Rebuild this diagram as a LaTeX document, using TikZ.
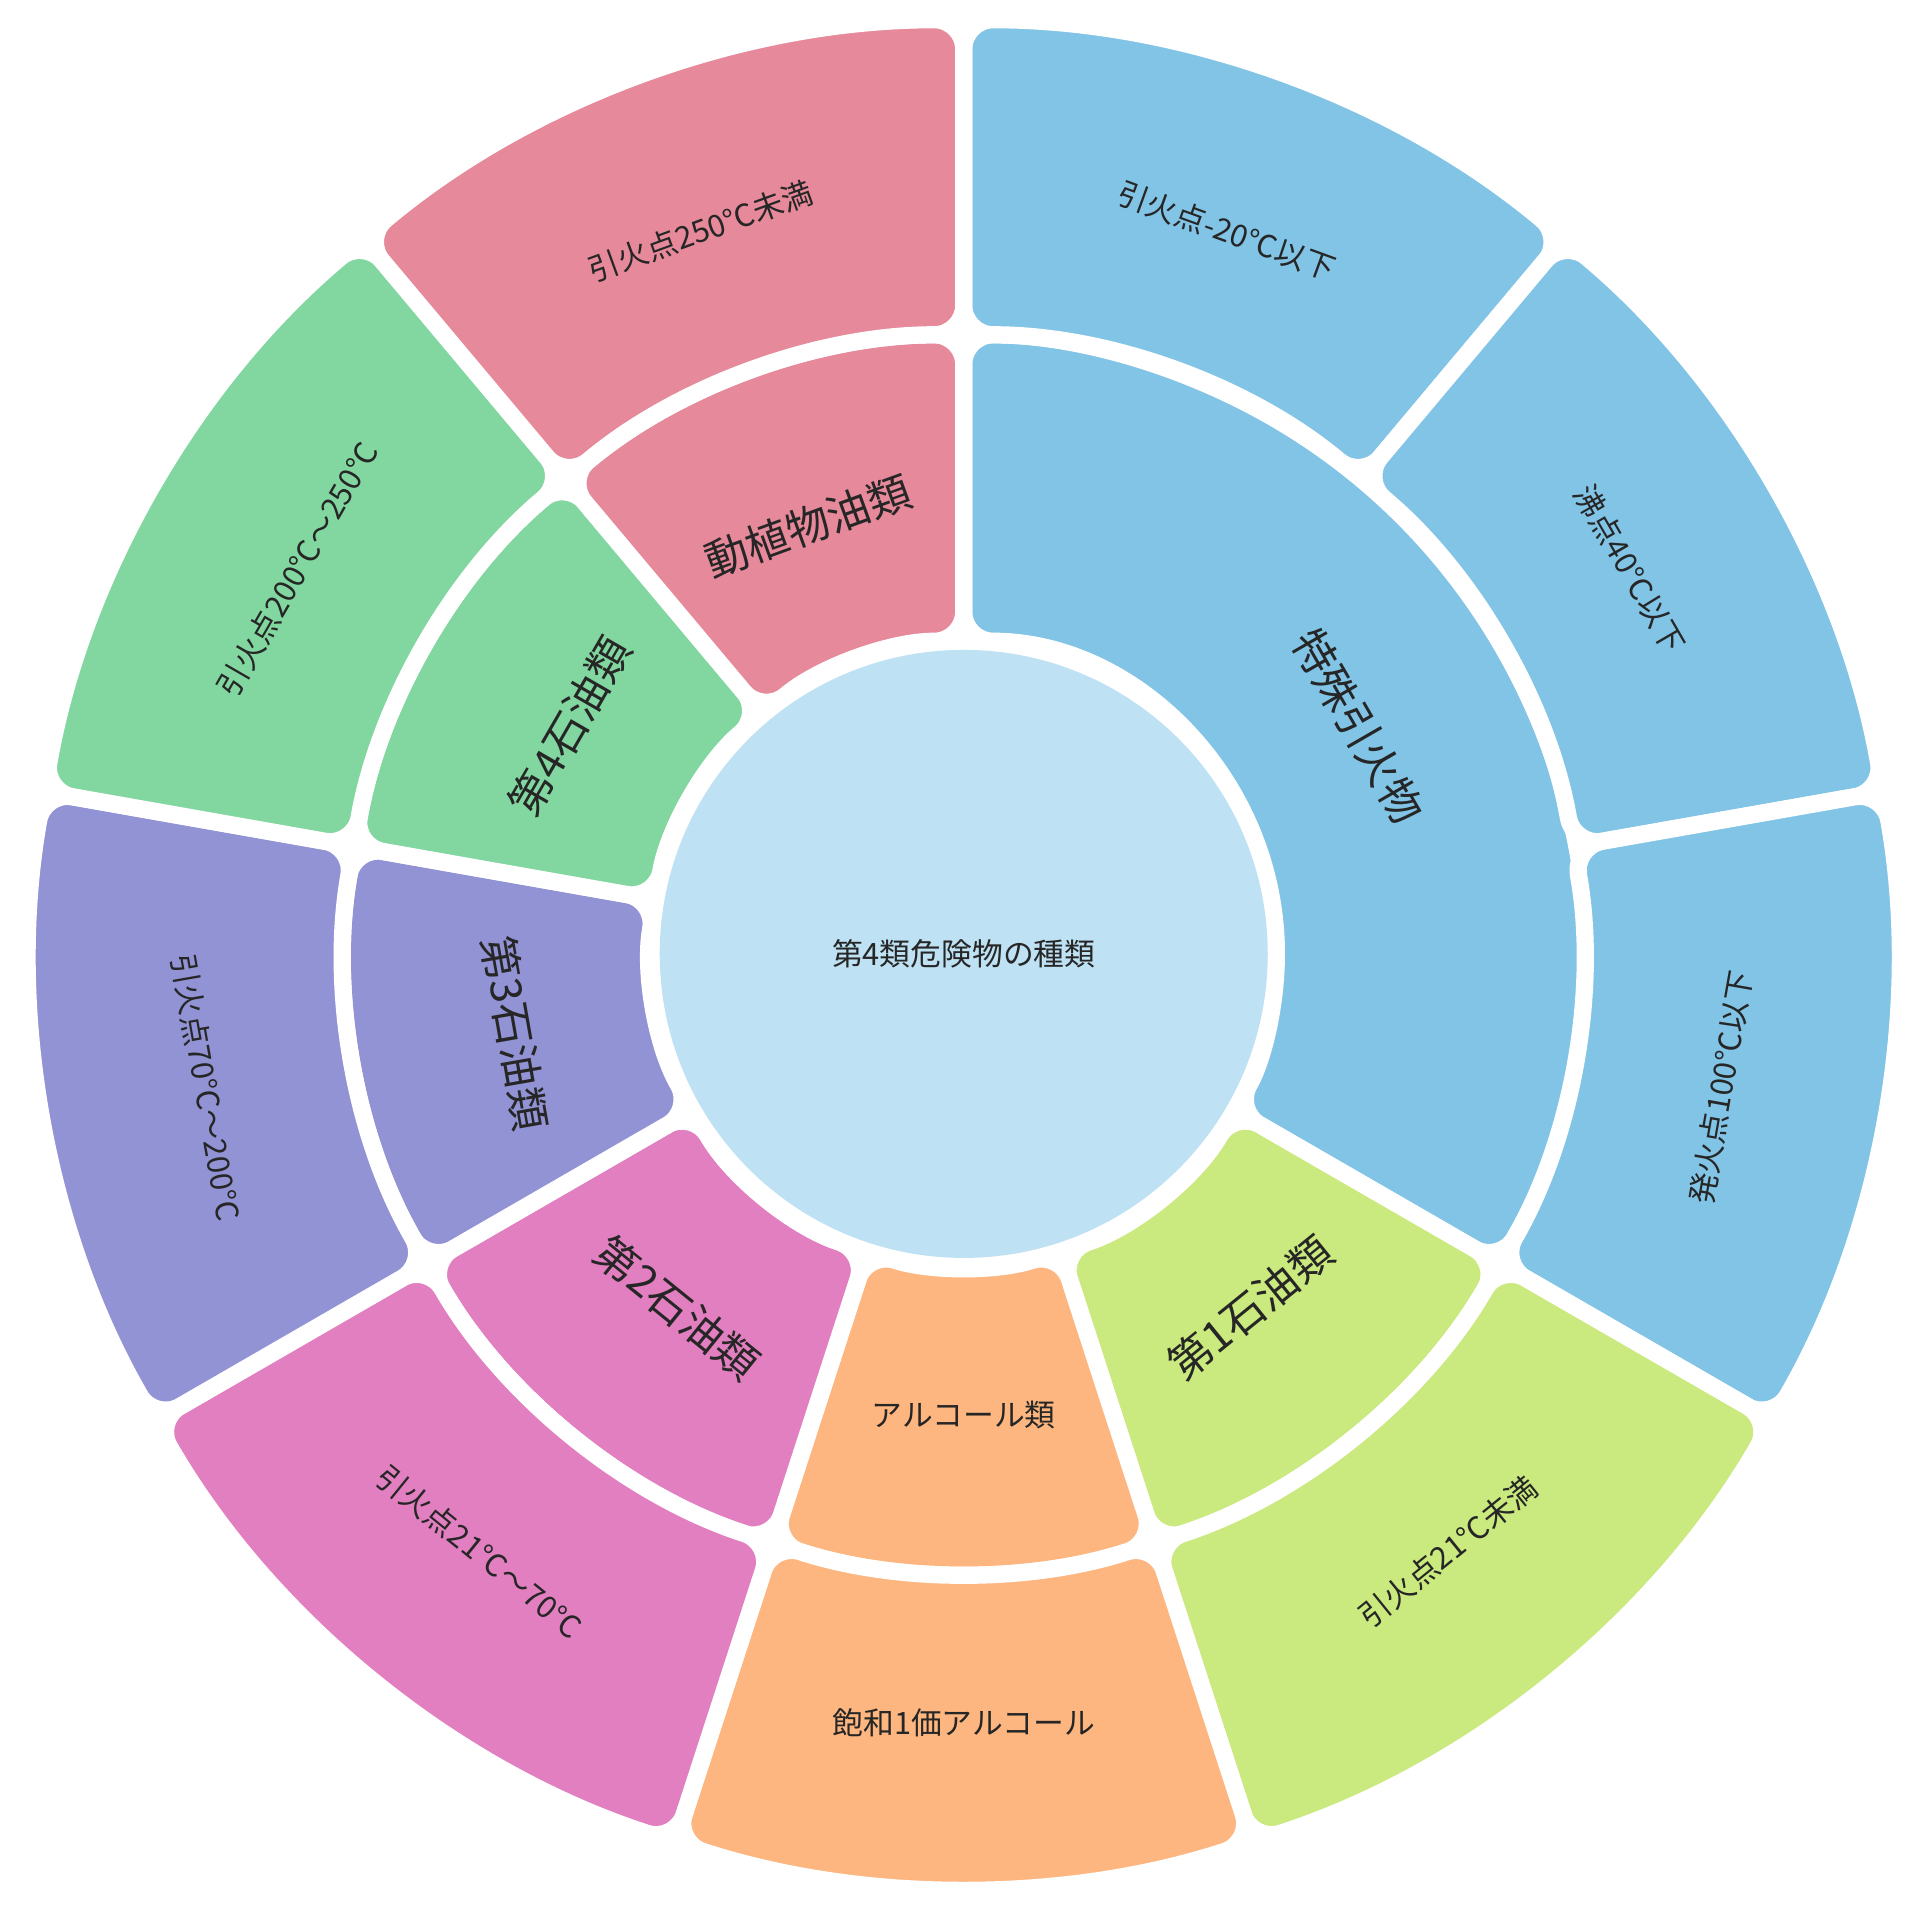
\documentclass[tikz,border=0pt]{standalone}
\usepackage{fontspec}
\setmainfont{Noto Sans CJK JP}
\definecolor{cblue}{HTML}{82C4E6}
\definecolor{ccenter}{HTML}{BEE1F3}
\definecolor{cyg}{HTML}{CAE97E}
\definecolor{corange}{HTML}{FDB67F}
\definecolor{cpink}{HTML}{E27FC0}
\definecolor{cpurple}{HTML}{9293D4}
\definecolor{cgreen}{HTML}{82D6A0}
\definecolor{crose}{HTML}{E6899A}
\tikzset{
  seg/.style={draw=white,line width=7pt,rounded corners=12,line join=round},
  big/.style={font=\fontsize{17.5}{18}\selectfont,text=black!85},
  small/.style={font=\fontsize{12.5}{13}\selectfont,text=black!85}
}
\newcommand{\mysector}[5]{% a1 a2 r1 r2 color (clockwise-from-top)
  \pgfmathsetmacro{\ta}{#1-90}\pgfmathsetmacro{\tb}{#2-90}
  \filldraw[seg,fill=#5] (\ta:#3) arc[start angle=\ta,end angle=\tb,radius=#3] -- (\tb:#4) arc[start angle=\tb,end angle=\ta,radius=#4] -- cycle;
}
\begin{document}
\begin{tikzpicture}[x=0.5pt,y=-0.5pt]
\fill[white] (0,0) rectangle (1560,1564);
\useasboundingbox (0,0) rectangle (1560,1564);
\begin{scope}[shift={(783,775)}]
% inner ring
\mysector{0}{120}{254}{503}{cblue}
\mysector{120}{162}{254}{503}{cyg}
\mysector{162}{198}{254}{503}{corange}
\mysector{198}{240}{254}{503}{cpink}
\mysector{240}{280}{254}{503}{cpurple}
\mysector{280}{320}{254}{503}{cgreen}
\mysector{320}{360}{254}{503}{crose}
% outer ring
\mysector{0}{40}{503}{759}{cblue}
\mysector{40}{80}{503}{759}{cblue}
\mysector{80}{120}{503}{759}{cblue}
\mysector{120}{162}{503}{759}{cyg}
\mysector{162}{198}{503}{759}{corange}
\mysector{198}{240}{503}{759}{cpink}
\mysector{240}{280}{503}{759}{cpurple}
\mysector{280}{320}{503}{759}{cgreen}
\mysector{320}{360}{503}{759}{crose}
% center
\fill[ccenter] (0,0) circle[radius=247];
\node[small] (title) at (0,0) {第4類危険物の種類};
% inner labels
\node[big,rotate=-60] (n1) at (-30:370) {特殊引火物};
\node[big,rotate=39] (n2) at (51:370) {第1石油類};
\node[small] (n3) at (90:375) {アルコール類};
\node[big,rotate=-39] (n4) at (129:370) {第2石油類};
\node[big,rotate=-80] (n5) at (170:370) {第3石油類};
\node[big,rotate=60] (n6) at (210:370) {第4石油類};
\node[big,rotate=20] (n7) at (250:370) {動植物油類};
% outer labels
\node[small,rotate=-20] (o1) at (-70:625) {引火点-20℃以下};
\node[small,rotate=-60] (o2) at (-30:625) {沸点40℃以下};
\node[small,rotate=80] (o3) at (10:625) {発火点100℃以下};
\node[small,rotate=39] (o4) at (51:625) {引火点21℃未満};
\node[small] (o5) at (90:625) {飽和1価アルコール};
\node[small,rotate=-39] (o6) at (129:625) {引火点21℃〜70℃};
\node[small,rotate=-80] (o7) at (170:625) {引火点70℃〜200℃};
\node[small,rotate=60] (o8) at (210:625) {引火点200℃〜250℃};
\node[small,rotate=20] (o9) at (250:625) {引火点250℃未満};
\end{scope}
\end{tikzpicture}
\end{document}
